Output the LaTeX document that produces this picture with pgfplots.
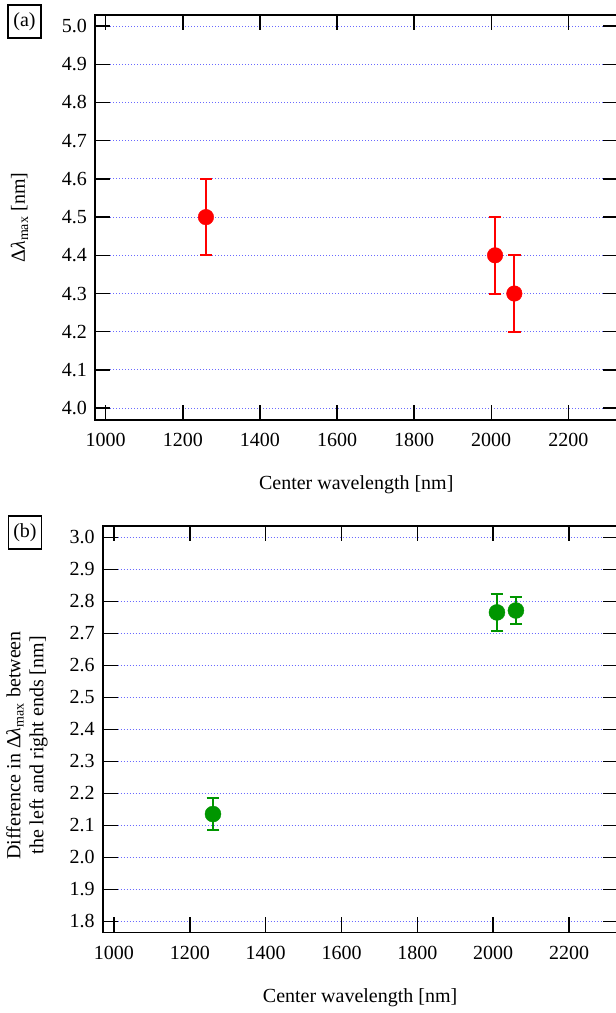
\documentclass[border=0pt]{standalone}
\usepackage{fontspec}
\setmainfont{Liberation Serif}
\usepackage{pgfplots}
\pgfplotsset{compat=1.18}
\definecolor{gridblue}{RGB}{105,105,255}
\definecolor{pgreen}{RGB}{0,150,0}
\pgfplotsset{
  myax/.style={
    scale only axis,
    axis line style={line width=1.6pt},
    major tick style={draw=black, line width=1.4pt},
    major tick length=15pt,
    tick align=inside,
    xtick pos=both, ytick pos=both,
    xticklabel pos=bottom, yticklabel pos=left,
    xtick={1000,1200,...,2200},
    ymajorgrids,
    major grid style={draw=gridblue, dash pattern=on 1pt off 2pt, line width=1pt},
    tick label style={font=\fontsize{20}{23}\selectfont},
    label style={font=\fontsize{20}{23}\selectfont},
    /pgf/number format/assume math mode=true,
    xticklabel style={anchor=base, yshift=-27pt, inner sep=0pt, /pgf/number format/1000 sep={}},
    yticklabel style={anchor=east, xshift=-8pt, inner sep=0pt, /pgf/number format/fixed, /pgf/number format/fixed zerofill, /pgf/number format/precision=1},
    xlabel style={at={(axis description cs:0.5,0)}, anchor=base, yshift=-70pt},
    xlabel={Center wavelength [nm]},
  }
}
\begin{document}
\begin{tikzpicture}[x=1pt,y=1pt]
\useasboundingbox (0,0) rectangle (616,1013);
% panel (a)
\begin{axis}[myax,
  at={(95pt,593pt)}, anchor=south west,
  width=522.5pt, height=405pt,
  xmin=972.2, xmax=2327.6, ymin=3.969, ymax=5.029,
  ytick={4.0,4.1,...,5.05},
  ylabel style={at={(axis description cs:-0.1445,0.5)}, anchor=center},
  ylabel={Δ\textit{λ}\textsubscript{max} [nm]},
]
\addplot[only marks, mark=*, mark size=7.8pt, red, mark options={fill=red, draw=red},
  error bars/.cd, y dir=both, y explicit,
  error bar style={line width=2pt, red},
  error mark options={rotate=90, mark size=6.2pt, line width=2pt, red}]
  coordinates {
  (1260,4.5) +- (0,0.1)
  (2010,4.4) +- (0,0.1)
  (2060,4.3) +- (0,0.1)
};
\end{axis}
% panel (b)
\begin{axis}[myax,
  at={(102.7pt,80.7pt)}, anchor=south west,
  width=514.8pt, height=406.3pt,
  xmin=970.2, xmax=2327.9, ymin=1.7656, ymax=3.035,
  ytick={1.8,1.9,...,3.05},
  ylabel style={at={(axis description cs:-0.147,0.46)}, anchor=center, align=center},
  ylabel={Difference in Δ\textit{λ}\textsubscript{max} between\\the left and right ends [nm]},
]
\addplot[only marks, mark=*, mark size=8pt, pgreen, mark options={fill=pgreen, draw=pgreen},
  error bars/.cd, y dir=both, y explicit,
  error bar style={line width=2pt, pgreen},
  error mark options={rotate=90, mark size=6.3pt, line width=2pt, pgreen}]
  coordinates {
  (1261,2.135) +- (0,0.05)
  (2010,2.765) +- (0,0.058)
  (2060,2.771) +- (0,0.042)
};
\end{axis}
\node[draw, line width=1.2pt, minimum width=33pt, minimum height=33pt, inner sep=0pt,
  font=\fontsize{20}{23}\selectfont] at (24.5,991.5) {(a)};
\node[draw, line width=1.2pt, minimum width=33pt, minimum height=33pt, inner sep=0pt,
  font=\fontsize{20}{23}\selectfont] at (25,480.5) {(b)};
\end{tikzpicture}
\end{document}
